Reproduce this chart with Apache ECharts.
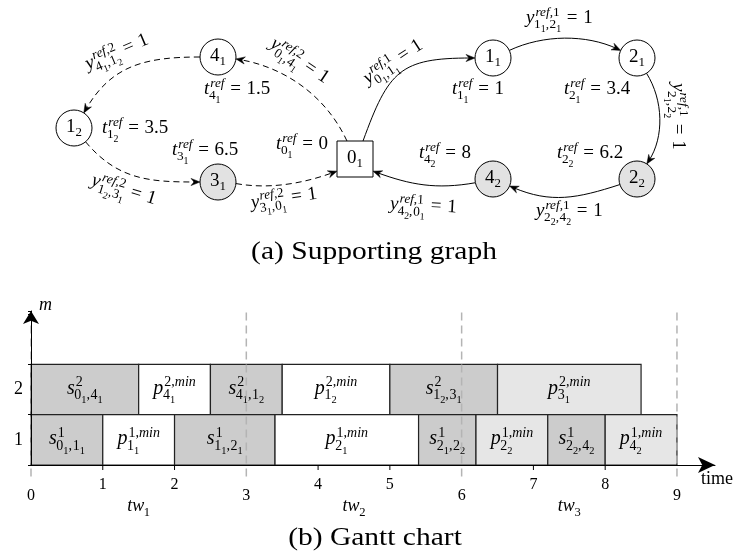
<!DOCTYPE html>
<html>
<head>
<meta charset="utf-8">
<script src="https://cdn.jsdelivr.net/npm/echarts@6/dist/echarts.min.js"></script>
<style>
html,body{margin:0;padding:0;background:#ffffff;}
#chart{width:736px;height:554px;}
</style>
</head>
<body>
<div id="chart"></div>
<script>
// ===== Data: supporting graph =====
const nodeIds     = ['0_1', '1_1', '2_1', '2_2', '4_2', '4_1', '1_2', '3_1'];
const nodeTref    = [0, 1, 3.4, 6.2, 8, 1.5, 3.5, 6.5];
const nodeShaded  = [false, false, false, true, true, false, false, true];
const nodeIsDepot = [true, false, false, false, false, false, false, false];

const edgeFrom    = ['0_1', '1_1', '2_1', '2_2', '4_2', '0_1', '4_1', '1_2', '3_1'];
const edgeTo      = ['1_1', '2_1', '2_2', '4_2', '0_1', '4_1', '1_2', '3_1', '0_1'];
const edgeVehicle = [1, 1, 1, 1, 1, 2, 2, 2, 2];
const edgeValue   = [1, 1, 1, 1, 1, 1, 1, 1, 1];

// ===== Data: Gantt chart =====
const machineLabels = ['1', '2'];
const taskMachine = [2, 2, 2, 2, 2, 2, 1, 1, 1, 1, 1, 1, 1, 1];
const taskKind    = ['s', 'p', 's', 'p', 's', 'p', 's', 'p', 's', 'p', 's', 'p', 's', 'p'];
const taskNodeA   = ['0_1', '4_1', '4_1', '1_2', '1_2', '3_1', '0_1', '1_1', '1_1', '2_1', '2_1', '2_2', '2_2', '4_2'];
const taskNodeB   = ['4_1', '', '1_2', '', '3_1', '', '1_1', '', '2_1', '', '2_2', '', '4_2', ''];
const taskStart   = [0, 1.5, 2.5, 3.5, 5.0, 6.5, 0, 1, 2, 3.4, 5.4, 6.2, 7.2, 8];
const taskEnd     = [1.5, 2.5, 3.5, 5.0, 6.5, 8.5, 1, 2, 3.4, 5.4, 6.2, 7.2, 8, 9];
const windowBounds = [0, 3, 6, 9];
const windowNames  = ['tw_{1}', 'tw_{2}', 'tw_{3}'];
const timeTicks    = [0, 1, 2, 3, 4, 5, 6, 7, 8, 9];

// ===== Layout of the graph drawing (graph panel units) =====
const nodeLayoutX = [355, 493, 637, 637, 493, 218, 74, 218];
const nodeLayoutY = [159, 58, 58, 179, 179, 57, 128, 182];
const nodeLabelX  = [276, 452, 564, 557, 419, 204, 102, 172];
const nodeLabelY  = [144, 89, 89, 153, 153, 89, 128, 150];
const edgeLabelX  = [365, 526, 678, 536, 390, 272, 86, 92, 251];
const edgeLabelY  = [80, 18, 83, 211, 204, 42, 65, 180, 203];
const edgeLabelRot = [33, 0, -90, 0, -3, -34, 23, -17, 8];
// bend: [out boundary angle, out tangent, in boundary angle, in tangent, out pull, in pull]
const edgeBend = [
  [66, 70, 180, 180, 75, 75],
  [25, 25, 155, 155, 38, 38],
  [-58, -58, 57, 57, 32, 32],
  [198, 198, -23, -23, 45, 45],
  [192, 190, -34, -20, 40, 40],
  [114, 115, -6, -10, 50, 50],
  [180, 180, 57, 60, 55, 55],
  [-50, -50, 180, 180, 50, 50],
  [-5, -10, 214, 200, 35, 35]
];

// ===== Helpers =====
const FONT = '"Liberation Serif","Times New Roman",Times,serif';
const R = 18, HALF = 18;
const mctx = document.createElement('canvas').getContext('2d');
function textWidth(str, size, italic) {
  mctx.font = (italic ? 'italic ' : '') + size + 'px ' + FONT;
  return mctx.measureText(str).width;
}
function pushText(els, str, x, y, size, italic) {
  els.push({type: 'text', x: x, y: y, style: {text: str, fontSize: size, fontFamily: FONT,
    fontStyle: italic ? 'italic' : 'normal', fill: '#000', align: 'left', verticalAlign: 'middle'}});
  return x + textWidth(str, size, italic);
}
function pushRuns(els, str, x, y, size) {
  const parts = str.match(/[A-Za-z]+|[^A-Za-z]+/g) || [];
  parts.forEach(p => { x = pushText(els, p, x, y, size, /[A-Za-z]/.test(p)); });
  return x;
}
function parseMath(s) {
  const m = s.match(/^([A-Za-z]+)(?:\^\{([^}]*)\})?(?:_\{([^}]*)\})?\s*(.*)$/);
  return {base: m[1], sup: m[2] || '', sub: m[3] || '', tail: m[4] || ''};
}
function mathEls(s, S) {
  const p = parseMath(s), els = [];
  let x = pushText(els, p.base, 0, 0, S, true);
  const s1 = S * 0.7, s2 = S * 0.52;
  let xSup = x, xSub = x;
  if (p.sup) xSup = pushRuns(els, p.sup, x + S * 0.05, -S * 0.29, s1);
  if (p.sub) {
    let xs = x - S * 0.02;
    const ys = S * 0.36;
    const segs = p.sub.match(/[^_,](?:_[^_,])?|,/g);
    segs.forEach(seg => {
      if (seg === ',') { xs = pushText(els, ',', xs, ys, s1, false); xs += S * 0.03; }
      else {
        xs = pushText(els, seg[0], xs, ys, s1, /[A-Za-z]/.test(seg[0]));
        if (seg.length > 2) xs = pushText(els, seg[2], xs, ys + S * 0.24, s2, false);
      }
    });
    xSub = xs;
  }
  x = Math.max(xSup, xSub);
  if (p.tail) {
    const t = p.tail.replace(/^=\s*/, '');
    x += S * 0.3;
    x = pushText(els, '=', x, 0, S, false);
    x += S * 0.3;
    x = pushRuns(els, t, x, 0, S);
  }
  return {els: els, width: x};
}
function nodeTextEls(id, S) {
  const parts = id.split('_');
  const els = [];
  let x = pushText(els, parts[0], 0, 0, S, false);
  x = pushText(els, parts[1], x, S * 0.3, S * 0.68, false);
  els.forEach(e => { e.x -= x / 2; });
  return els;
}
const nodeIndex = id => nodeIds.indexOf(id);
function boundaryPoint(c, depot, deg) {
  const a = deg * Math.PI / 180, dx = Math.cos(a), dy = -Math.sin(a);
  if (depot) {
    const t = HALF / Math.max(Math.abs(dx), Math.abs(dy));
    return [c[0] + t * dx, c[1] + t * dy];
  }
  return [c[0] + R * dx, c[1] + R * dy];
}
function dirVec(deg) { const a = deg * Math.PI / 180; return [Math.cos(a), -Math.sin(a)]; }

// ===== Chart =====
const chart = echarts.init(document.getElementById('chart'), null, {renderer: 'canvas'});

const graphLabels = [];
nodeIds.forEach((id, i) => graphLabels.push({
  text: 't^{ref}_{' + id + '} = ' + nodeTref[i], x: nodeLabelX[i], y: nodeLabelY[i], rot: 0}));
edgeFrom.forEach((f, i) => graphLabels.push({
  text: 'y^{ref,' + edgeVehicle[i] + '}_{' + f + ',' + edgeTo[i] + '} = ' + edgeValue[i],
  x: edgeLabelX[i], y: edgeLabelY[i], rot: edgeLabelRot[i]}));

const minorTicks = timeTicks.filter(v => windowBounds.indexOf(v) < 0);
const windowMids = windowNames.map((n, i) => (windowBounds[i] + windowBounds[i + 1]) / 2);

const option = {
  animation: false,
  backgroundColor: '#ffffff',
  grid: [
    {left: 0, top: 0, width: 736, height: 240},
    {left: 31, top: 311, width: 684, height: 154}
  ],
  xAxis: [
    {gridIndex: 0, type: 'value', min: 0, max: 736, show: false},
    {gridIndex: 1, type: 'value', min: 0, max: 9.53, interval: 1, z: 10,
      axisLine: {show: true, symbol: ['none', 'arrow'], symbolSize: [12, 17], lineStyle: {color: '#000', width: 1}},
      axisTick: {show: false}, splitLine: {show: false},
      axisLabel: {show: true, margin: 11, showMinLabel: true, showMaxLabel: false,
        formatter: v => {
          if (timeTicks.indexOf(v) < 0) return '';
          return windowBounds.indexOf(v) >= 0 ? '{lo|' + v + '}' : '{hi|' + v + '}';
        },
        rich: {
          hi: {fontSize: 16, fontFamily: FONT, color: '#000', lineHeight: 18},
          lo: {fontSize: 16, fontFamily: FONT, color: '#000', lineHeight: 18, padding: [22, 0, 0, 0]}
        }},
      name: 'time', nameLocation: 'end', nameGap: -14,
      nameTextStyle: {fontSize: 18, fontFamily: FONT, color: '#000', align: 'left', verticalAlign: 'top', padding: [5, 0, 0, 0]}
    }
  ],
  yAxis: [
    {gridIndex: 0, type: 'value', min: 0, max: 240, inverse: true, show: false},
    {gridIndex: 1, type: 'value', min: 0, max: 3.06, interval: 1, z: 10,
      axisLine: {show: true, symbol: ['none', 'arrow'], symbolSize: [12, 13], lineStyle: {color: '#000', width: 1}},
      axisTick: {show: true, length: 3, lineStyle: {color: '#000'}},
      splitLine: {show: false},
      axisLabel: {show: false},
      name: 'm', nameLocation: 'end', nameGap: -3,
      nameTextStyle: {fontSize: 18, fontFamily: FONT, fontStyle: 'italic', color: '#000', align: 'left', padding: [0, 0, 0, 8]}
    }
  ],
  series: [
    { // graph edges
      type: 'custom', xAxisIndex: 0, yAxisIndex: 0, clip: false, z: 2,
      data: edgeFrom.map((f, i) => [i, 0]),
      renderItem: (params, api) => {
        const i = params.dataIndex;
        const a = nodeIndex(edgeFrom[i]), b = nodeIndex(edgeTo[i]);
        const ca = api.coord([nodeLayoutX[a], nodeLayoutY[a]]);
        const cb = api.coord([nodeLayoutX[b], nodeLayoutY[b]]);
        const g = edgeBend[i];
        const p0 = boundaryPoint(ca, nodeIsDepot[a], g[0]);
        const p3 = boundaryPoint(cb, nodeIsDepot[b], g[2]);
        const d1 = dirVec(g[1]), d2 = dirVec(g[3]);
        const p1 = [p0[0] + g[4] * d1[0], p0[1] + g[4] * d1[1]];
        const p2 = [p3[0] + g[5] * d2[0], p3[1] + g[5] * d2[1]];
        let ux = p3[0] - p2[0], uy = p3[1] - p2[1];
        const n = Math.hypot(ux, uy); ux /= n; uy /= n;
        const L = 9, W = 3.6, nx = -uy, ny = ux;
        const bx = p3[0] - ux * L, by = p3[1] - uy * L;
        const arrow = [[p3[0], p3[1]], [bx + nx * W, by + ny * W], [p3[0] - ux * (L - 3), p3[1] - uy * (L - 3)], [bx - nx * W, by - ny * W]];
        const pe = [p3[0] - ux * 4, p3[1] - uy * 4];
        const dashed = edgeVehicle[i] === 2;
        return {type: 'group', children: [
          {type: 'bezierCurve', shape: {x1: p0[0], y1: p0[1], x2: pe[0], y2: pe[1], cpx1: p1[0], cpy1: p1[1], cpx2: p2[0], cpy2: p2[1]},
            style: {stroke: '#000', fill: 'none', lineWidth: 1, lineDash: dashed ? [6, 4] : null}},
          {type: 'polygon', shape: {points: arrow}, style: {fill: '#000', stroke: '#000', lineWidth: 0.5}}
        ]};
      }
    },
    { // graph nodes
      type: 'custom', xAxisIndex: 0, yAxisIndex: 0, clip: false, z: 3,
      data: nodeIds.map((id, i) => [nodeLayoutX[i], nodeLayoutY[i]]),
      renderItem: (params, api) => {
        const i = params.dataIndex;
        const c = api.coord([nodeLayoutX[i], nodeLayoutY[i]]);
        const fill = nodeShaded[i] ? '#e2e2e2' : '#ffffff';
        const shape = nodeIsDepot[i]
          ? {type: 'rect', shape: {x: c[0] - HALF, y: c[1] - HALF, width: 2 * HALF, height: 2 * HALF}, style: {fill: fill, stroke: '#000', lineWidth: 1}}
          : {type: 'circle', shape: {cx: c[0], cy: c[1], r: R}, style: {fill: fill, stroke: '#000', lineWidth: 1}};
        return {type: 'group', children: [shape, {type: 'group', x: c[0], y: c[1] - 1, children: nodeTextEls(nodeIds[i], 19)}]};
      }
    },
    { // graph labels
      type: 'custom', xAxisIndex: 0, yAxisIndex: 0, clip: false, z: 4,
      data: graphLabels.map(l => [l.x, l.y]),
      renderItem: (params, api) => {
        const l = graphLabels[params.dataIndex];
        const c = api.coord([l.x, l.y]);
        const me = mathEls(l.text, 19);
        return {type: 'group', x: c[0], y: c[1], rotation: l.rot * Math.PI / 180, children: me.els};
      }
    },
    { // Gantt bars
      type: 'custom', xAxisIndex: 1, yAxisIndex: 1, clip: false, z: 2,
      data: taskStart.map((s, i) => [s, taskMachine[i]]),
      renderItem: (params, api) => {
        const i = params.dataIndex;
        const m = taskMachine[i];
        const p0 = api.coord([taskStart[i], m - 1]);
        const p1 = api.coord([taskEnd[i], m]);
        const fill = taskKind[i] === 's' ? '#cccccc' : (nodeShaded[nodeIndex(taskNodeA[i])] ? '#e6e6e6' : '#ffffff');
        const lab = taskKind[i] === 's'
          ? 's^{' + m + '}_{' + taskNodeA[i] + ',' + taskNodeB[i] + '}'
          : 'p^{' + m + ',min}_{' + taskNodeA[i] + '}';
        const me = mathEls(lab, 20);
        me.els.forEach(e => { e.x -= me.width / 2; });
        return {type: 'group', children: [
          {type: 'rect', shape: {x: p0[0], y: p1[1], width: p1[0] - p0[0], height: p0[1] - p1[1]},
            style: {fill: fill, stroke: '#222', lineWidth: 1.2}},
          {type: 'group', x: (p0[0] + p1[0]) / 2, y: (p0[1] + p1[1]) / 2 - 1, children: me.els}
        ]};
      }
    },
    { // machine (row) labels
      type: 'custom', xAxisIndex: 1, yAxisIndex: 1, clip: false, z: 6,
      data: machineLabels.map((l, i) => [0, i + 0.5]),
      renderItem: (params, api) => {
        const i = params.dataIndex;
        const c = api.coord([0, i + 0.5]);
        return {type: 'text', x: c[0] - 8, y: c[1], style: {text: machineLabels[i], fontSize: 18, fontFamily: FONT,
          fill: '#000', align: 'right', verticalAlign: 'middle'}};
      }
    },
    { // time-window boundaries
      type: 'custom', xAxisIndex: 1, yAxisIndex: 1, clip: false, z: 5,
      data: windowBounds.map(v => [v, 0]),
      renderItem: (params, api) => {
        const v = windowBounds[params.dataIndex];
        const top = api.coord([v, 3.03]);
        const bot = api.coord([v, 0]);
        return {type: 'line', shape: {x1: top[0], y1: top[1], x2: bot[0], y2: bot[1] + 12},
          style: {stroke: '#b4b4b4', lineWidth: 1.5, lineDash: [8, 5]}};
      }
    },
    { // minor time ticks
      type: 'custom', xAxisIndex: 1, yAxisIndex: 1, clip: false, z: 6,
      data: minorTicks.map(v => [v, 0]),
      renderItem: (params, api) => {
        const c = api.coord([minorTicks[params.dataIndex], 0]);
        return {type: 'line', shape: {x1: c[0], y1: c[1], x2: c[0], y2: c[1] + 5}, style: {stroke: '#000', lineWidth: 1}};
      }
    },
    { // time-window names
      type: 'custom', xAxisIndex: 1, yAxisIndex: 1, clip: false, z: 6,
      data: windowMids.map(v => [v, 0]),
      renderItem: (params, api) => {
        const c = api.coord([windowMids[params.dataIndex], 0]);
        const me = mathEls(windowNames[params.dataIndex], 18);
        me.els.forEach(e => { e.x -= me.width / 2; });
        return {type: 'group', x: c[0], y: c[1] + 41, children: me.els};
      }
    }
  ],
  graphic: [
    {type: 'text', x: 374, y: 252, scaleX: 1.18, style: {text: '(a) Supporting graph', fontSize: 25, fontFamily: FONT, fill: '#000', align: 'center', verticalAlign: 'middle'}},
    {type: 'text', x: 375, y: 538, scaleX: 1.18, style: {text: '(b) Gantt chart', fontSize: 25, fontFamily: FONT, fill: '#000', align: 'center', verticalAlign: 'middle'}}
  ]
};
chart.setOption(option);
</script>
</body>
</html>
